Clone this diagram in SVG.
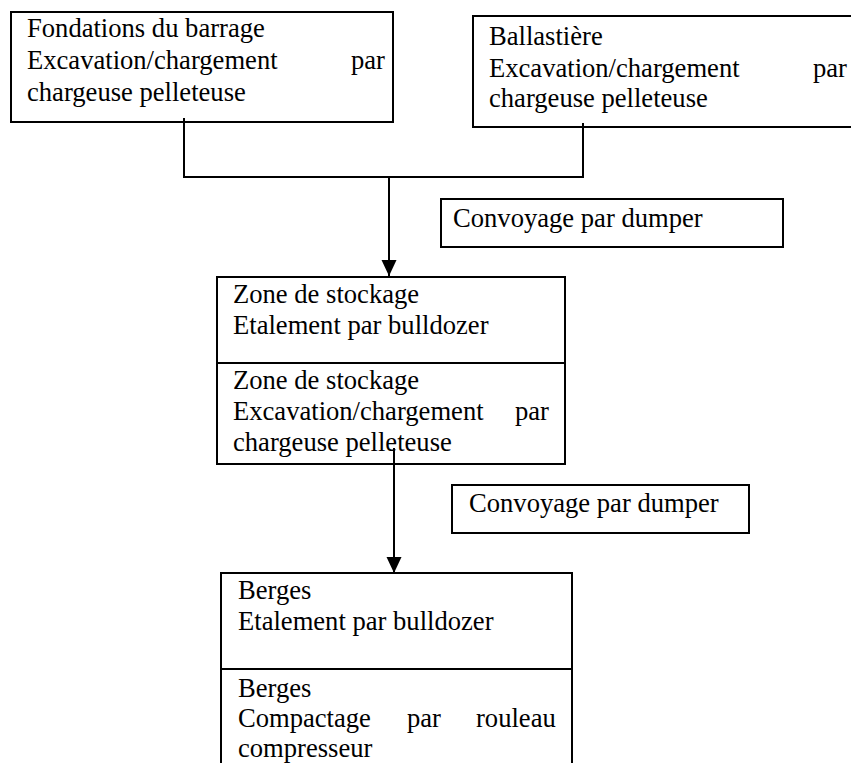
<svg xmlns="http://www.w3.org/2000/svg" width="851" height="763" viewBox="0 0 851 763">
<style>
text{font-family:"Liberation Serif","Times New Roman",serif;font-size:26.6px;fill:#000}
.box{fill:#fff;stroke:#000;stroke-width:2}
.ln{fill:none;stroke:#000;stroke-width:2}
</style>
<defs>
<marker id="ah" markerWidth="8" markerHeight="8" refX="8" refY="4" orient="auto" markerUnits="userSpaceOnUse" viewBox="0 0 8 8">
<path d="M0,0 L8,4 L0,8 Z" fill="#000"/>
</marker>
<marker id="arrow" markerWidth="16" markerHeight="16" refX="16" refY="8" orient="auto" markerUnits="userSpaceOnUse" viewBox="0 0 16 16">
<path d="M0,0.5 L16,8 L0,15.5 Z" fill="#000"/>
</marker>
</defs>
<rect width="851" height="763" fill="#fff"/>
<g id="n-fondations">
<rect class="box" x="11" y="12" width="382" height="110"/>
<text x="27" y="37">Fondations du barrage</text>
<text x="27" y="69">Excavation/chargement</text>
<text x="351" y="69">par</text>
<text x="27" y="101">chargeuse pelleteuse</text>
</g>
<g id="n-ballastiere">
<rect class="box" x="473" y="16" width="385" height="111"/>
<text x="489" y="45">Ballastière</text>
<text x="489" y="77">Excavation/chargement</text>
<text x="813" y="77">par</text>
<text x="489" y="107">chargeuse pelleteuse</text>
</g>
<g id="n-convoyage1">
<rect class="box" x="441" y="199" width="342" height="48"/>
<text x="453" y="227">Convoyage par dumper</text>
</g>
<g id="n-stockage">
<rect class="box" x="217" y="277" width="348" height="187"/>
<line class="ln" x1="217" y1="363" x2="565" y2="363"/>
<text x="233" y="303">Zone de stockage</text>
<text x="233" y="334">Etalement par bulldozer</text>
<text x="233" y="389">Zone de stockage</text>
<text x="233" y="420">Excavation/chargement</text>
<text x="515" y="420">par</text>
<text x="233" y="451">chargeuse pelleteuse</text>
</g>
<g id="n-convoyage2">
<rect class="box" x="452" y="485" width="297" height="48"/>
<text x="469" y="512">Convoyage par dumper</text>
</g>
<g id="n-berges">
<rect class="box" x="221" y="573" width="351" height="200"/>
<line class="ln" x1="221" y1="669" x2="572" y2="669"/>
<text x="238" y="599">Berges</text>
<text x="238" y="630">Etalement par bulldozer</text>
<text x="238" y="697">Berges</text>
<text x="238" y="727">Compactage</text>
<text x="407" y="727">par</text>
<text x="476" y="727">rouleau</text>
<text x="238" y="757">compresseur</text>
</g>
<g id="connectors">
<polyline class="ln" points="184,118 184,177 583,177"/>
<line class="ln" x1="583" y1="123" x2="583" y2="178"/>
<line class="ln" x1="389" y1="177" x2="389" y2="276" marker-end="url(#arrow)"/>
<line class="ln" x1="394" y1="448" x2="394" y2="573" marker-end="url(#arrow)"/>
</g>
</svg>
